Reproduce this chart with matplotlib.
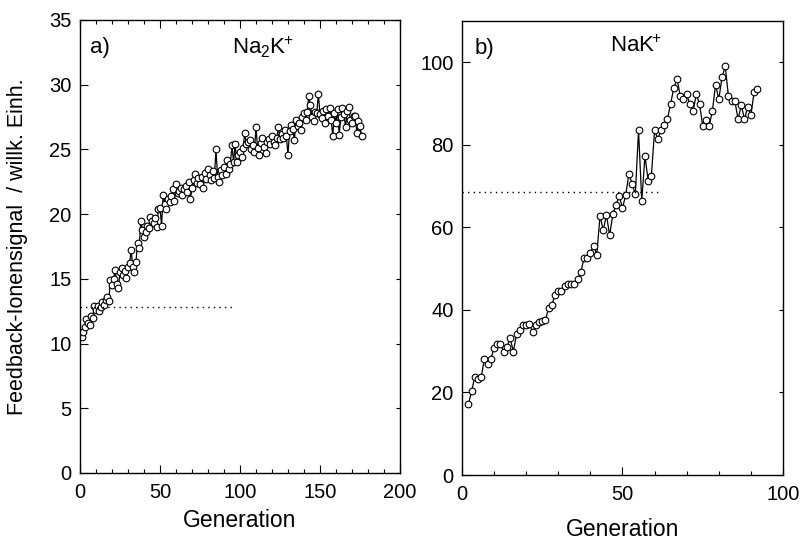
import matplotlib.pyplot as plt
from matplotlib.ticker import MultipleLocator

plt.rcParams['font.family'] = ['Liberation Sans', 'DejaVu Sans']
plt.rcParams['mathtext.fontset'] = 'custom'
plt.rcParams['mathtext.rm'] = 'Liberation Sans'
plt.rcParams['mathtext.it'] = 'Liberation Sans:italic'

# a) Na2K+ feedback signal per generation
gen_a = list(range(1, 177))
signal_a = [
    10.5, 10.9, 11.3, 11.9, 11.6, 11.4, 12.1, 12.0, 12.9, 12.6,
    12.9, 12.5, 12.8, 13.2, 13.0, 13.4, 13.6, 13.3, 14.9, 14.5,
    15.0, 15.7, 14.6, 14.3, 15.5, 15.8, 15.3, 15.6, 15.1, 15.9,
    16.2, 17.2, 15.9, 15.5, 16.3, 17.8, 17.4, 19.5, 18.8, 18.2,
    18.6, 19.1, 18.9, 19.8, 19.5, 19.3, 19.7, 19.0, 20.4, 20.5,
    19.1, 21.5, 20.8, 20.4, 21.2, 20.9, 21.4, 21.9, 21.0, 22.3,
    21.6, 21.8, 22.0, 21.5, 21.9, 22.2, 21.7, 22.5, 21.2, 22.0,
    22.6, 23.1, 22.4, 22.8, 22.3, 22.9, 22.0, 23.2, 22.7, 23.5,
    23.0, 22.6, 23.3, 22.8, 25.0, 22.9, 22.5, 23.4, 23.0, 23.6,
    23.1, 24.2, 23.5, 23.9, 25.3, 24.0, 25.4, 24.0, 24.6, 24.8,
    24.4, 25.1, 26.3, 25.4, 25.6, 25.7, 25.0, 25.3, 24.8, 26.7,
    25.1, 24.6, 25.5, 25.9, 25.2, 24.7, 25.6, 25.8, 25.4, 26.0,
    25.6, 25.3, 25.9, 26.7, 25.8, 26.2, 25.9, 26.5, 26.0, 24.6,
    26.4, 26.9, 26.6, 25.7, 27.3, 26.8, 27.0, 26.5, 27.5, 27.8,
    27.3, 27.9, 29.1, 28.4, 27.5, 27.2, 27.9, 27.8, 29.3, 27.7,
    27.4, 28.0, 27.0, 28.1, 27.6, 28.2, 27.3, 26.0, 27.8, 27.0,
    28.1, 26.1, 27.5, 28.2, 27.7, 26.7, 28.0, 28.3, 27.3, 27.0,
    27.6, 27.6, 26.3, 27.2, 26.8, 26.0,
]
level_a = 12.8
level_a_end = 95

# b) NaK+ feedback signal per generation
gen_b = list(range(2, 93))
signal_b = [
    17.1, 20.3, 23.8, 23.2, 23.7, 28.2, 27.0, 28.1, 30.8, 31.8,
    31.8, 29.9, 31.0, 33.2, 29.9, 34.1, 35.1, 36.3, 36.3, 36.7,
    34.6, 36.3, 37.1, 37.3, 37.5, 40.5, 41.3, 43.6, 44.7, 44.6,
    45.8, 46.4, 46.2, 46.4, 47.5, 49.1, 52.5, 52.5, 53.9, 55.5,
    53.4, 62.8, 59.3, 63.0, 58.1, 63.2, 65.5, 67.6, 64.7, 67.8,
    73.0, 70.6, 68.0, 83.5, 66.4, 77.3, 71.3, 72.5, 83.5, 81.4,
    83.5, 84.7, 86.2, 90.0, 93.8, 96.0, 91.8, 91.0, 92.2, 89.8,
    88.1, 92.3, 89.8, 84.6, 86.1, 84.6, 88.2, 94.6, 91.0, 96.4,
    99.0, 91.8, 90.6, 90.6, 86.2, 89.6, 86.2, 89.2, 87.3, 92.7,
    93.6,
]
level_b = 68.5
level_b_end = 62


def style_axis(ax, top_ticks):
    ax.tick_params(which='both', direction='in', labelsize=14.5,
                   top=top_ticks, right=True, width=0.8)
    ax.tick_params(which='major', length=6, pad=6)
    ax.tick_params(which='minor', length=3)
    ax.tick_params(axis='x', pad=7)
    ax.tick_params(axis='y', which='minor', left=False, right=False)
    for tick in ax.yaxis.get_major_ticks():
        tick.tick2line.set_markersize(3)
    for sp in ax.spines.values():
        sp.set_linewidth(1.0)


fig = plt.figure(figsize=(8.03, 5.43), dpi=100)
ax1 = fig.add_axes([0.0996, 0.129, 0.3985, 0.8343])
ax2 = fig.add_axes([0.5753, 0.1252, 0.3998, 0.8361])

line_kw = dict(color='black', lw=0.9, marker='o', markersize=4.8,
               markerfacecolor='white', markeredgecolor='black',
               markeredgewidth=0.8)

ax1.plot(gen_a, signal_a, **line_kw)
ax1.hlines(level_a, 0, level_a_end, colors='black', linestyles=(0, (1, 3)), lw=1)
ax1.set_xlim(0, 200)
ax1.set_ylim(0, 35)
ax1.xaxis.set_major_locator(MultipleLocator(50))
ax1.xaxis.set_minor_locator(MultipleLocator(10))
ax1.yaxis.set_major_locator(MultipleLocator(5))
style_axis(ax1, True)
ax1.set_xlabel('Generation', fontsize=16.5, labelpad=5)
ax1.set_ylabel('Feedback-Ionensignal  / willk. Einh.', fontsize=15.5,
               labelpad=15)
ax1.text(0.03, 0.94, 'a)', transform=ax1.transAxes, fontsize=16, va='center')
ax1.text(0.475, 0.94, r'Na$_2$K$^{\!\!+}$', transform=ax1.transAxes,
         fontsize=16, va='center')

ax2.plot(gen_b, signal_b, **line_kw)
ax2.hlines(level_b, 0, level_b_end, colors='black', linestyles=(0, (1, 3)), lw=1)
ax2.set_xlim(0, 100)
ax2.set_ylim(0, 110)
ax2.xaxis.set_major_locator(MultipleLocator(50))
ax2.xaxis.set_minor_locator(MultipleLocator(10))
ax2.yaxis.set_major_locator(MultipleLocator(20))
style_axis(ax2, False)
ax2.set_xlabel('Generation', fontsize=16.5, labelpad=10)
ax2.text(0.04, 0.94, 'b)', transform=ax2.transAxes, fontsize=16, va='center')
ax2.text(0.46, 0.945, r'NaK$^{\!\!+}$', transform=ax2.transAxes,
         fontsize=16, va='center')

fig.savefig('out.png', dpi=100)
